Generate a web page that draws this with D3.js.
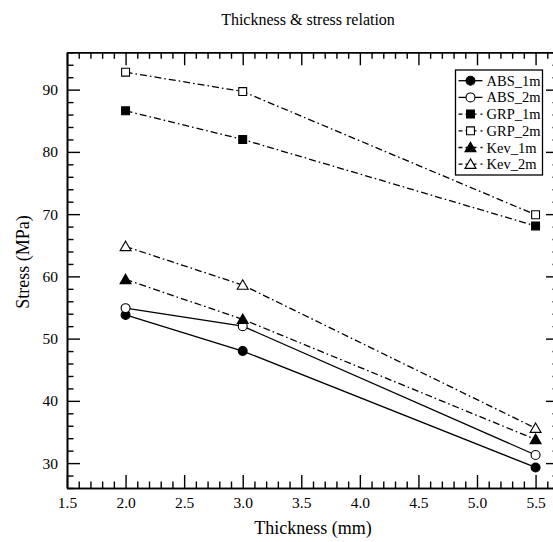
<!DOCTYPE html>
<html>
<head>
<meta charset="utf-8">
<script src="https://cdn.jsdelivr.net/npm/d3@7"></script>
<style>
  html, body { margin: 0; padding: 0; background: #fff; }
  svg { display: block; }
</style>
</head>
<body>
<div id="chart"></div>
<script>
// Thickness (mm) at which each specimen group was tested
const thickness = [2.0, 3.0, 5.5];

// Stress (MPa) per series, one value per thickness
const abs1m = [53.8, 48.0, 29.3];
const abs2m = [54.9, 52.0, 31.3];
const grp1m = [86.6, 82.0, 68.1];
const grp2m = [92.8, 89.7, 69.9];
const kev1m = [59.5, 53.1, 33.8];
const kev2m = [64.8, 58.6, 35.6];

const seriesNames = ["ABS_1m", "ABS_2m", "GRP_1m", "GRP_2m", "Kev_1m", "Kev_2m"];

// Axis ticks
const xMajorTicks = [1.5, 2.0, 2.5, 3.0, 3.5, 4.0, 4.5, 5.0, 5.5];
const yMajorTicks = [30, 40, 50, 60, 70, 80, 90];

const series = [
  { name: seriesNames[0], values: abs1m, shape: "circle",   filled: true,  dashed: false },
  { name: seriesNames[1], values: abs2m, shape: "circle",   filled: false, dashed: false },
  { name: seriesNames[2], values: grp1m, shape: "square",   filled: true,  dashed: true },
  { name: seriesNames[3], values: grp2m, shape: "square",   filled: false, dashed: true },
  { name: seriesNames[4], values: kev1m, shape: "triangle", filled: true,  dashed: true },
  { name: seriesNames[5], values: kev2m, shape: "triangle", filled: false, dashed: true }
];

const SERIF = "Liberation Serif, Times New Roman, Times, serif";

const W = 553, H = 542;
const plotLeft = 67, plotRight = 559, plotTop = 52.3, plotBottom = 488;

const svg = d3.select("#chart").append("svg")
  .attr("width", W).attr("height", H)
  .attr("font-family", SERIF);

const x = d3.scaleLinear().domain([1.5, 5.7]).range([plotLeft, plotRight]);
const y = d3.scaleLinear().domain([26, 96]).range([plotBottom, plotTop]);

const xMinor = d3.range(15, 58).map(v => v / 10).filter(v => Math.abs(v * 2 - Math.round(v * 2)) > 1e-6);
const yMinor = d3.range(26, 97, 2).filter(v => v % 10 !== 0);

const MAJ = 13, MIN = 6.5;

function styleAxis(g) {
  g.attr("font-family", SERIF);
  g.selectAll("path.domain").attr("stroke", "#000").attr("stroke-width", 1.6);
  g.selectAll(".tick line").attr("stroke", "#000").attr("stroke-width", 1.4);
  g.selectAll(".tick text")
    .attr("font-family", SERIF)
    .attr("font-size", 15.5).attr("fill", "#000");
}

// Bottom axis with labels
const gB = svg.append("g").attr("transform", `translate(0,${plotBottom})`)
  .call(d3.axisBottom(x).tickValues(xMajorTicks).tickFormat(d3.format(".1f"))
    .tickSize(-MAJ).tickSizeOuter(0).tickPadding(9));
styleAxis(gB);
const gBm = svg.append("g").attr("transform", `translate(0,${plotBottom})`)
  .call(d3.axisBottom(x).tickValues(xMinor).tickFormat("").tickSize(-MIN).tickSizeOuter(0));
styleAxis(gBm);

// Top axis, ticks only
const gT = svg.append("g").attr("transform", `translate(0,${plotTop})`)
  .call(d3.axisTop(x).tickValues(xMajorTicks).tickFormat("").tickSize(-MAJ).tickSizeOuter(0));
styleAxis(gT);
const gTm = svg.append("g").attr("transform", `translate(0,${plotTop})`)
  .call(d3.axisTop(x).tickValues(xMinor).tickFormat("").tickSize(-MIN).tickSizeOuter(0));
styleAxis(gTm);

// Left axis with labels
const gL = svg.append("g").attr("transform", `translate(${plotLeft},0)`)
  .call(d3.axisLeft(y).tickValues(yMajorTicks).tickSize(-MAJ).tickSizeOuter(0).tickPadding(9));
styleAxis(gL);
const gLm = svg.append("g").attr("transform", `translate(${plotLeft},0)`)
  .call(d3.axisLeft(y).tickValues(yMinor).tickFormat("").tickSize(-MIN).tickSizeOuter(0));
styleAxis(gLm);

// Right axis, ticks only
const gR = svg.append("g").attr("transform", `translate(${plotRight},0)`)
  .call(d3.axisRight(y).tickValues(yMajorTicks).tickFormat("").tickSize(-MAJ).tickSizeOuter(0));
styleAxis(gR);
const gRm = svg.append("g").attr("transform", `translate(${plotRight},0)`)
  .call(d3.axisRight(y).tickValues(yMinor).tickFormat("").tickSize(-MIN).tickSizeOuter(0));
styleAxis(gRm);

// Titles
svg.append("text").attr("x", 308).attr("y", 25).attr("text-anchor", "middle")
  .attr("font-family", SERIF).attr("font-size", 16).text("Thickness & stress relation");
svg.append("text").attr("x", 313).attr("y", 534).attr("text-anchor", "middle")
  .attr("font-family", SERIF).attr("font-size", 18).text("Thickness (mm)");
svg.append("text").attr("transform", "translate(29,262) rotate(-90)")
  .attr("text-anchor", "middle").attr("font-family", SERIF).attr("font-size", 18).text("Stress (MPa)");

const DASH = "7,3,1.6,3";

const symbolFor = shape => shape === "circle" ? d3.symbolCircle
  : shape === "square" ? d3.symbolSquare : d3.symbolTriangle;
const sizeFor = shape => shape === "circle" ? 62 : shape === "square" ? 62 : 52;

function drawMarker(g, s, cx, cy) {
  const off = s.shape === "triangle" ? 1 : 0;
  g.append("path")
    .attr("d", d3.symbol().type(symbolFor(s.shape)).size(sizeFor(s.shape))())
    .attr("transform", `translate(${cx},${cy + off})`)
    .attr("fill", s.filled ? "#000" : "#fff")
    .attr("stroke", "#000").attr("stroke-width", 1.1);
}

const line = d3.line().x((d, i) => x(thickness[i])).y(d => y(d));

const plot = svg.append("g");
series.forEach(s => {
  plot.append("path").datum(s.values)
    .attr("d", line).attr("fill", "none")
    .attr("stroke", "#000").attr("stroke-width", 1.3)
    .attr("stroke-dasharray", s.dashed ? DASH : null);
});
series.forEach(s => {
  s.values.forEach((v, i) => drawMarker(plot, s, x(thickness[i]), y(v)));
});

// Legend
const lgX = 455.5, lgY = 70, lgW = 87, lgH = 105, rowH = 16.7;
const lg = svg.append("g");
lg.append("rect").attr("x", lgX).attr("y", lgY).attr("width", lgW).attr("height", lgH)
  .attr("fill", "#fff").attr("stroke", "#000").attr("stroke-width", 1.3);
series.forEach((s, i) => {
  const cy = lgY + 10.7 + i * rowH;
  lg.append("line").attr("x1", lgX + 3).attr("x2", lgX + 27).attr("y1", cy).attr("y2", cy)
    .attr("stroke", "#000").attr("stroke-width", 1.3)
    .attr("stroke-dasharray", s.dashed ? "4,3,4,3,4" : null);
  drawMarker(lg, s, lgX + 15, cy);
  lg.append("text").attr("x", lgX + 31).attr("y", cy + 5)
    .attr("font-family", SERIF).attr("font-size", 14.5).text(s.name);
});
</script>
</body>
</html>
